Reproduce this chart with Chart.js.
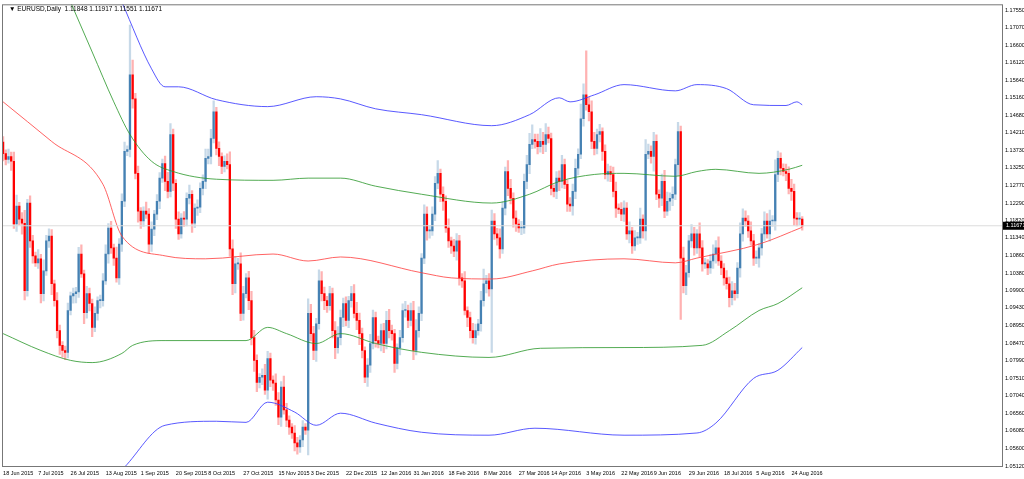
<!DOCTYPE html>
<html>
<head>
<meta charset="utf-8">
<script src="https://cdn.jsdelivr.net/npm/chart.js@4"></script>
<style>
  html, body { margin: 0; padding: 0; background: #fff; }
  #wrap { width: 1024px; height: 479px; }
</style>
</head>
<body>
<div id="wrap"><canvas id="chart"></canvas></div>
<script>
// EURUSD daily closes
const closes = [
  1.1364,1.1348,1.1356,1.1343,1.1172,1.1221,1.1185,1.1174,1.0990,1.1229,1.1126,1.1085,1.1066,1.1077,1.0982,1.1044,1.1126,1.1139,1.1009,1.0963,1.0881,1.0841,1.0827,1.0822,1.0936,
  1.0976,1.0982,1.0987,1.1090,1.1036,1.0930,1.0982,1.0955,1.0890,1.0928,1.0963,1.0963,1.1017,1.1090,1.1161,1.1107,1.1079,1.1025,1.1117,1.1234,1.1370,1.1375,1.1579,1.1513,1.1310,
  1.1207,1.1180,1.1207,1.1199,1.1117,1.1158,1.1199,1.1234,1.1297,1.1337,1.1288,1.1261,1.1416,1.1283,1.1185,1.1145,1.1188,1.1185,1.1242,1.1253,1.1174,1.1215,1.1218,1.1269,1.1288,1.1351,
  1.1356,1.1405,1.1478,1.1378,1.1356,1.1329,1.1343,1.1334,1.1104,1.1009,1.1063,1.1063,1.0928,1.0982,1.1025,1.0963,1.0862,1.0800,1.0740,1.0754,1.0759,1.0719,1.0805,1.0746,1.0738,
  1.0692,1.0645,1.0727,1.0665,1.0637,1.0618,1.0602,1.0575,1.0564,1.0583,1.0618,1.0610,1.0928,1.0873,1.0827,1.0900,1.1017,1.0982,1.0963,1.0949,1.0982,1.0881,1.0835,1.0862,1.0917,
  1.0955,1.0909,1.0963,1.0982,1.0928,1.0909,1.0873,1.0827,1.0754,1.0787,1.0846,1.0917,1.0854,1.0846,1.0881,1.0846,1.0909,1.0881,1.0873,1.0792,1.0835,1.0862,1.0936,1.0936,
  1.0909,1.0936,1.0827,1.0881,1.0928,1.1079,1.1199,1.1153,1.1153,1.1199,1.1283,1.1310,1.1253,1.1234,1.1161,1.1126,1.1112,1.1098,1.1126,1.1025,1.1017,1.0936,1.0917,1.0881,1.0862,
  1.0881,1.0900,1.0963,1.1009,1.1017,1.0995,1.1180,1.1145,1.1134,1.1104,1.1215,1.1315,1.1269,1.1242,1.1188,1.1172,1.1161,1.1161,1.1288,1.1334,1.1389,1.1402,1.1397,1.1383,1.1397,
  1.1389,1.1416,1.1405,1.1269,1.1261,1.1297,1.1288,1.1334,1.1280,1.1226,1.1221,1.1261,1.1324,1.1362,1.1459,1.1524,1.1497,1.1478,1.1397,1.1378,1.1416,1.1424,1.1370,1.1307,1.1315,
  1.1307,1.1261,1.1215,1.1212,1.1199,1.1215,1.1145,1.1153,1.1112,1.1134,1.1134,1.1185,1.1153,1.1362,1.1370,1.1356,1.1397,1.1253,1.1242,1.1288,1.1207,1.1234,1.1242,1.1253,1.1334,
  1.1424,1.1079,1.1004,1.1039,1.1126,1.1145,1.1107,1.1145,1.1107,1.1063,1.1063,1.1052,1.1071,1.1090,1.1107,1.1071,1.1052,1.1025,1.1009,1.0971,1.0990,1.0982,1.1052,1.1145,1.1188,
  1.1180,1.1153,1.1126,1.1079,1.1079,1.1107,1.1145,1.1180,1.1145,1.1180,1.1180,1.1307,1.1351,1.1324,1.1315,1.1310,1.1269,1.1261,1.1188,1.1185,1.1185,1.1167
];
const firstOpen = 1.1395;

// wick lengths above / below the body, in pips
const wickUp = [
  15,10,20,12,25,30,10,18,35,10,20,15,10,25,12,30,15,20,18,10,22,15,10,12,20,
  10,15,12,18,25,10,20,15,12,18,10,15,20,25,12,18,10,30,15,20,25,10,135,40,15,
  20,10,12,25,15,20,10,18,15,12,20,25,30,15,10,20,12,18,15,25,10,12,20,15,18,25,
  20,25,30,12,18,10,15,20,35,25,20,15,30,20,12,18,25,20,15,10,18,30,20,15,12,
  25,20,15,30,18,12,10,20,15,12,18,10,40,25,20,15,30,25,18,12,20,15,25,30,20,
  15,18,12,20,25,30,20,15,10,18,25,20,15,12,18,20,25,30,15,12,10,20,18,25,
  15,20,25,30,18,12,25,20,15,20,18,35,12,20,15,25,10,18,20,15,12,25,10,15,20,
  18,12,25,40,15,20,30,20,15,25,18,12,30,25,15,20,12,18,20,25,30,40,15,20,35,
  25,30,20,15,10,18,20,25,15,12,18,20,25,15,40,30,120,20,30,25,15,20,10,18,20,
  15,20,25,12,18,20,15,25,10,20,15,30,12,40,20,15,25,18,12,20,30,25,15,20,15,
  25,15,30,20,15,25,18,12,30,20,15,12,18,25,20,30,15,12,20,18,25,20,15,30,25,
  20,15,25,18,20,12,15,25,20,30,15,40,20,15,12,20,18,25,20,15,18,7
];
const wickDn = [
  20,15,10,25,12,20,15,30,25,15,18,20,10,15,25,20,12,18,30,15,20,25,18,20,15,
  12,20,25,15,10,30,15,20,25,12,18,20,15,10,25,15,20,12,18,20,15,12,20,25,15,
  30,20,15,12,25,20,18,15,20,12,25,18,15,20,25,15,12,20,18,15,25,12,20,15,18,20,
  15,20,12,18,25,20,15,12,20,30,25,15,20,18,12,25,20,30,25,15,20,12,25,18,20,
  15,20,25,12,18,20,15,22,20,15,18,12,68,20,25,30,15,20,25,18,12,20,30,15,20,
  25,15,20,18,12,25,30,20,15,25,20,15,18,12,20,25,15,20,18,25,15,20,12,18,
  20,15,25,12,18,20,15,25,20,12,18,15,20,25,12,18,20,15,25,20,18,12,25,20,15,
  18,12,20,15,25,20,173,15,20,25,12,18,20,15,25,20,12,18,15,20,25,12,18,20,15,
  25,20,12,18,15,20,25,18,12,20,15,25,20,18,12,20,15,25,20,18,15,20,25,12,18,
  20,15,25,12,18,20,15,25,20,12,18,15,20,25,12,18,40,15,25,20,18,12,25,20,15,
  30,167,20,25,12,18,20,15,25,20,12,18,15,20,25,12,18,20,15,25,20,18,12,25,20,
  15,18,12,20,15,25,20,18,12,20,15,25,20,18,12,20,15,25,20,18,15,12
];

// indicator lines: [bar index, price]
const maLine = [[0,1.1505],[18,1.1397],[37,1.1280],[44,1.1139],[60,1.1085],[75,1.1077],[100,1.1090],[113,1.1071],[125,1.1082],[155,1.1039],[166,1.1025],[181,1.1022],[196,1.1044],[206,1.1063],[230,1.1077],[249,1.1066],[257,1.1079],[280,1.1117],[296,1.1163]];
const innerUpper = [[25,1.1777],[33,1.1641],[41,1.1505],[47,1.1416],[55,1.1343],[63,1.1315],[79,1.1294],[100,1.1291],[113,1.1297],[125,1.1297],[138,1.1275],[155,1.1253],[181,1.1229],[195,1.1253],[206,1.1288],[219,1.1307],[230,1.1310],[249,1.1302],[257,1.1315],[264,1.1321],[280,1.1310],[291,1.1321],[296,1.1332]];
const innerLower = [[0,1.0873],[14,1.0827],[25,1.0800],[33,1.0794],[44,1.0819],[48,1.0841],[60,1.0854],[90,1.0854],[98,1.0890],[105,1.0873],[116,1.0846],[125,1.0873],[138,1.0846],[155,1.0822],[180,1.0808],[199,1.0833],[230,1.0835],[259,1.0841],[269,1.0881],[280,1.0936],[287,1.0955],[296,1.0998]];
const outerUpper = [[44,1.1777],[55,1.1595],[60,1.1546],[65,1.1546],[79,1.1511],[98,1.1492],[116,1.1519],[125,1.1513],[138,1.1486],[155,1.1470],[181,1.1440],[195,1.1470],[206,1.1516],[210,1.1505],[219,1.1524],[230,1.1552],[249,1.1535],[257,1.1552],[268,1.1541],[278,1.1497],[290,1.1495],[294,1.1505],[296,1.1497]];
const outerLower = [[45,1.0509],[60,1.0623],[79,1.0634],[90,1.0631],[98,1.0686],[108,1.0659],[116,1.0623],[125,1.0656],[138,1.0629],[155,1.0604],[180,1.0596],[197,1.0615],[230,1.0596],[257,1.0602],[264,1.0629],[278,1.0751],[287,1.0773],[296,1.0835]];

const dateIndex = [0,13,25,38,51,64,76,89,102,114,127,140,152,165,178,191,203,216,229,241,254,267,279,292];
const dateLabels = ['18 Jun 2015','7 Jul 2015','26 Jul 2015','13 Aug 2015','1 Sep 2015','20 Sep 2015','8 Oct 2015','27 Oct 2015','15 Nov 2015','3 Dec 2015','22 Dec 2015','12 Jan 2016','31 Jan 2016','18 Feb 2016','8 Mar 2016','27 Mar 2016','14 Apr 2016','3 May 2016','22 May 2016','9 Jun 2016','29 Jun 2016','18 Jul 2016','5 Aug 2016','24 Aug 2016'];
const priceTicks = [1.05120,1.05600,1.06080,1.06560,1.07040,1.07510,1.07990,1.08470,1.08950,1.09430,1.09900,1.10380,1.10860,1.11340,1.11820,1.12290,1.12770,1.13250,1.13730,1.14210,1.14680,1.15160,1.15640,1.16120,1.16600,1.17070,1.17550];
const lastPrice = 1.11671;
const header = '\u25BC EURUSD,Daily  1.11848 1.11917 1.11551 1.11671';

const FONT = '"Liberation Sans", Arial, sans-serif';
const PIP = 0.0001;
const bodies = [], wicks = [], bodyColors = [], wickColors = [];
closes.forEach((c, i) => {
  const o = i === 0 ? firstOpen : closes[i - 1];
  const hi = Math.max(o, c) + (wickUp[i] || 0) * PIP;
  const lo = Math.min(o, c) - (wickDn[i] || 0) * PIP;
  bodies.push({ x: i, y: [o, c] });
  wicks.push({ x: i, y: [lo, hi] });
  const up = c >= o;
  bodyColors.push(up ? '#4682B4' : '#FF0000');
  wickColors.push(up ? 'rgba(70,130,180,0.3)' : 'rgba(255,0,0,0.3)');
});

function line(points, color) {
  return {
    type: 'line',
    data: points.map(p => ({ x: p[0], y: p[1] })),
    borderColor: color,
    borderWidth: 1,
    pointRadius: 0,
    cubicInterpolationMode: 'monotone',
    fill: false
  };
}

const frame = {
  id: 'frame',
  afterDraw(chart) {
    const { ctx, chartArea: a, scales } = chart;
    ctx.save();
    ctx.strokeStyle = '#777';
    ctx.lineWidth = 1;
    ctx.strokeRect(a.left + 0.5, a.top + 0.5, a.right - a.left, a.bottom - a.top);
    ctx.font = '6.5px ' + FONT;
    ctx.fillStyle = '#000';
    ctx.textBaseline = 'middle';
    ctx.fillText(header, a.left + 7, a.top + 5);
    const y = scales.y.getPixelForValue(lastPrice);
    ctx.fillRect(a.right + 1, y - 4, 22, 8);
    ctx.fillStyle = '#fff';
    ctx.font = '5.5px ' + FONT;
    ctx.fillText(lastPrice.toFixed(5), a.right + 4, y);
    ctx.restore();
  }
};

new Chart(document.getElementById('chart'), {
  type: 'bar',
  data: {
    datasets: [
      { type: 'line', data: [{ x: -0.4, y: lastPrice }, { x: 370, y: lastPrice }], borderColor: '#dcdcdc', borderWidth: 1, pointRadius: 0 },
      line(outerUpper, 'rgba(60,60,255,0.85)'),
      line(outerLower, 'rgba(60,60,255,0.85)'),
      line(innerUpper, 'rgba(40,150,40,0.8)'),
      line(innerLower, 'rgba(40,150,40,0.8)'),
      line(maLine, 'rgba(255,60,60,0.8)'),
      { data: wicks, backgroundColor: wickColors, barThickness: 1.6, grouped: false },
      { data: bodies, backgroundColor: bodyColors, barThickness: 1.6, grouped: false, minBarLength: 1 }
    ]
  },
  options: {
    responsive: true,
    maintainAspectRatio: false,
    animation: false,
    layout: { padding: { left: 2, top: 2, right: 0, bottom: 0 } },
    plugins: { legend: { display: false }, tooltip: { enabled: false } },
    scales: {
      x: {
        type: 'linear',
        min: -0.4,
        max: 370,
        offset: false,
        grid: { display: false, drawTicks: true, tickLength: 3 },
        border: { display: false },
        afterBuildTicks: s => { s.ticks = dateIndex.map(v => ({ value: v })); },
        afterFit: s => { s.height = 13; },
        ticks: {
          autoSkip: false,
          maxRotation: 0,
          align: 'start',
          padding: 1,
          color: '#000',
          font: { size: 5.5, family: FONT },
          callback: (v) => dateLabels[dateIndex.indexOf(v)]
        }
      },
      y: {
        position: 'right',
        min: 1.0512,
        max: 1.1771,
        grid: { display: false, tickLength: 2 },
        border: { display: false },
        afterBuildTicks: s => { s.ticks = priceTicks.map(v => ({ value: v })); },
        afterFit: s => { s.width = 22; },
        ticks: {
          autoSkip: false,
          padding: 1,
          color: '#000',
          font: { size: 5.5, family: FONT },
          callback: v => v.toFixed(5)
        }
      }
    }
  },
  plugins: [frame]
});
</script>
</body>
</html>
